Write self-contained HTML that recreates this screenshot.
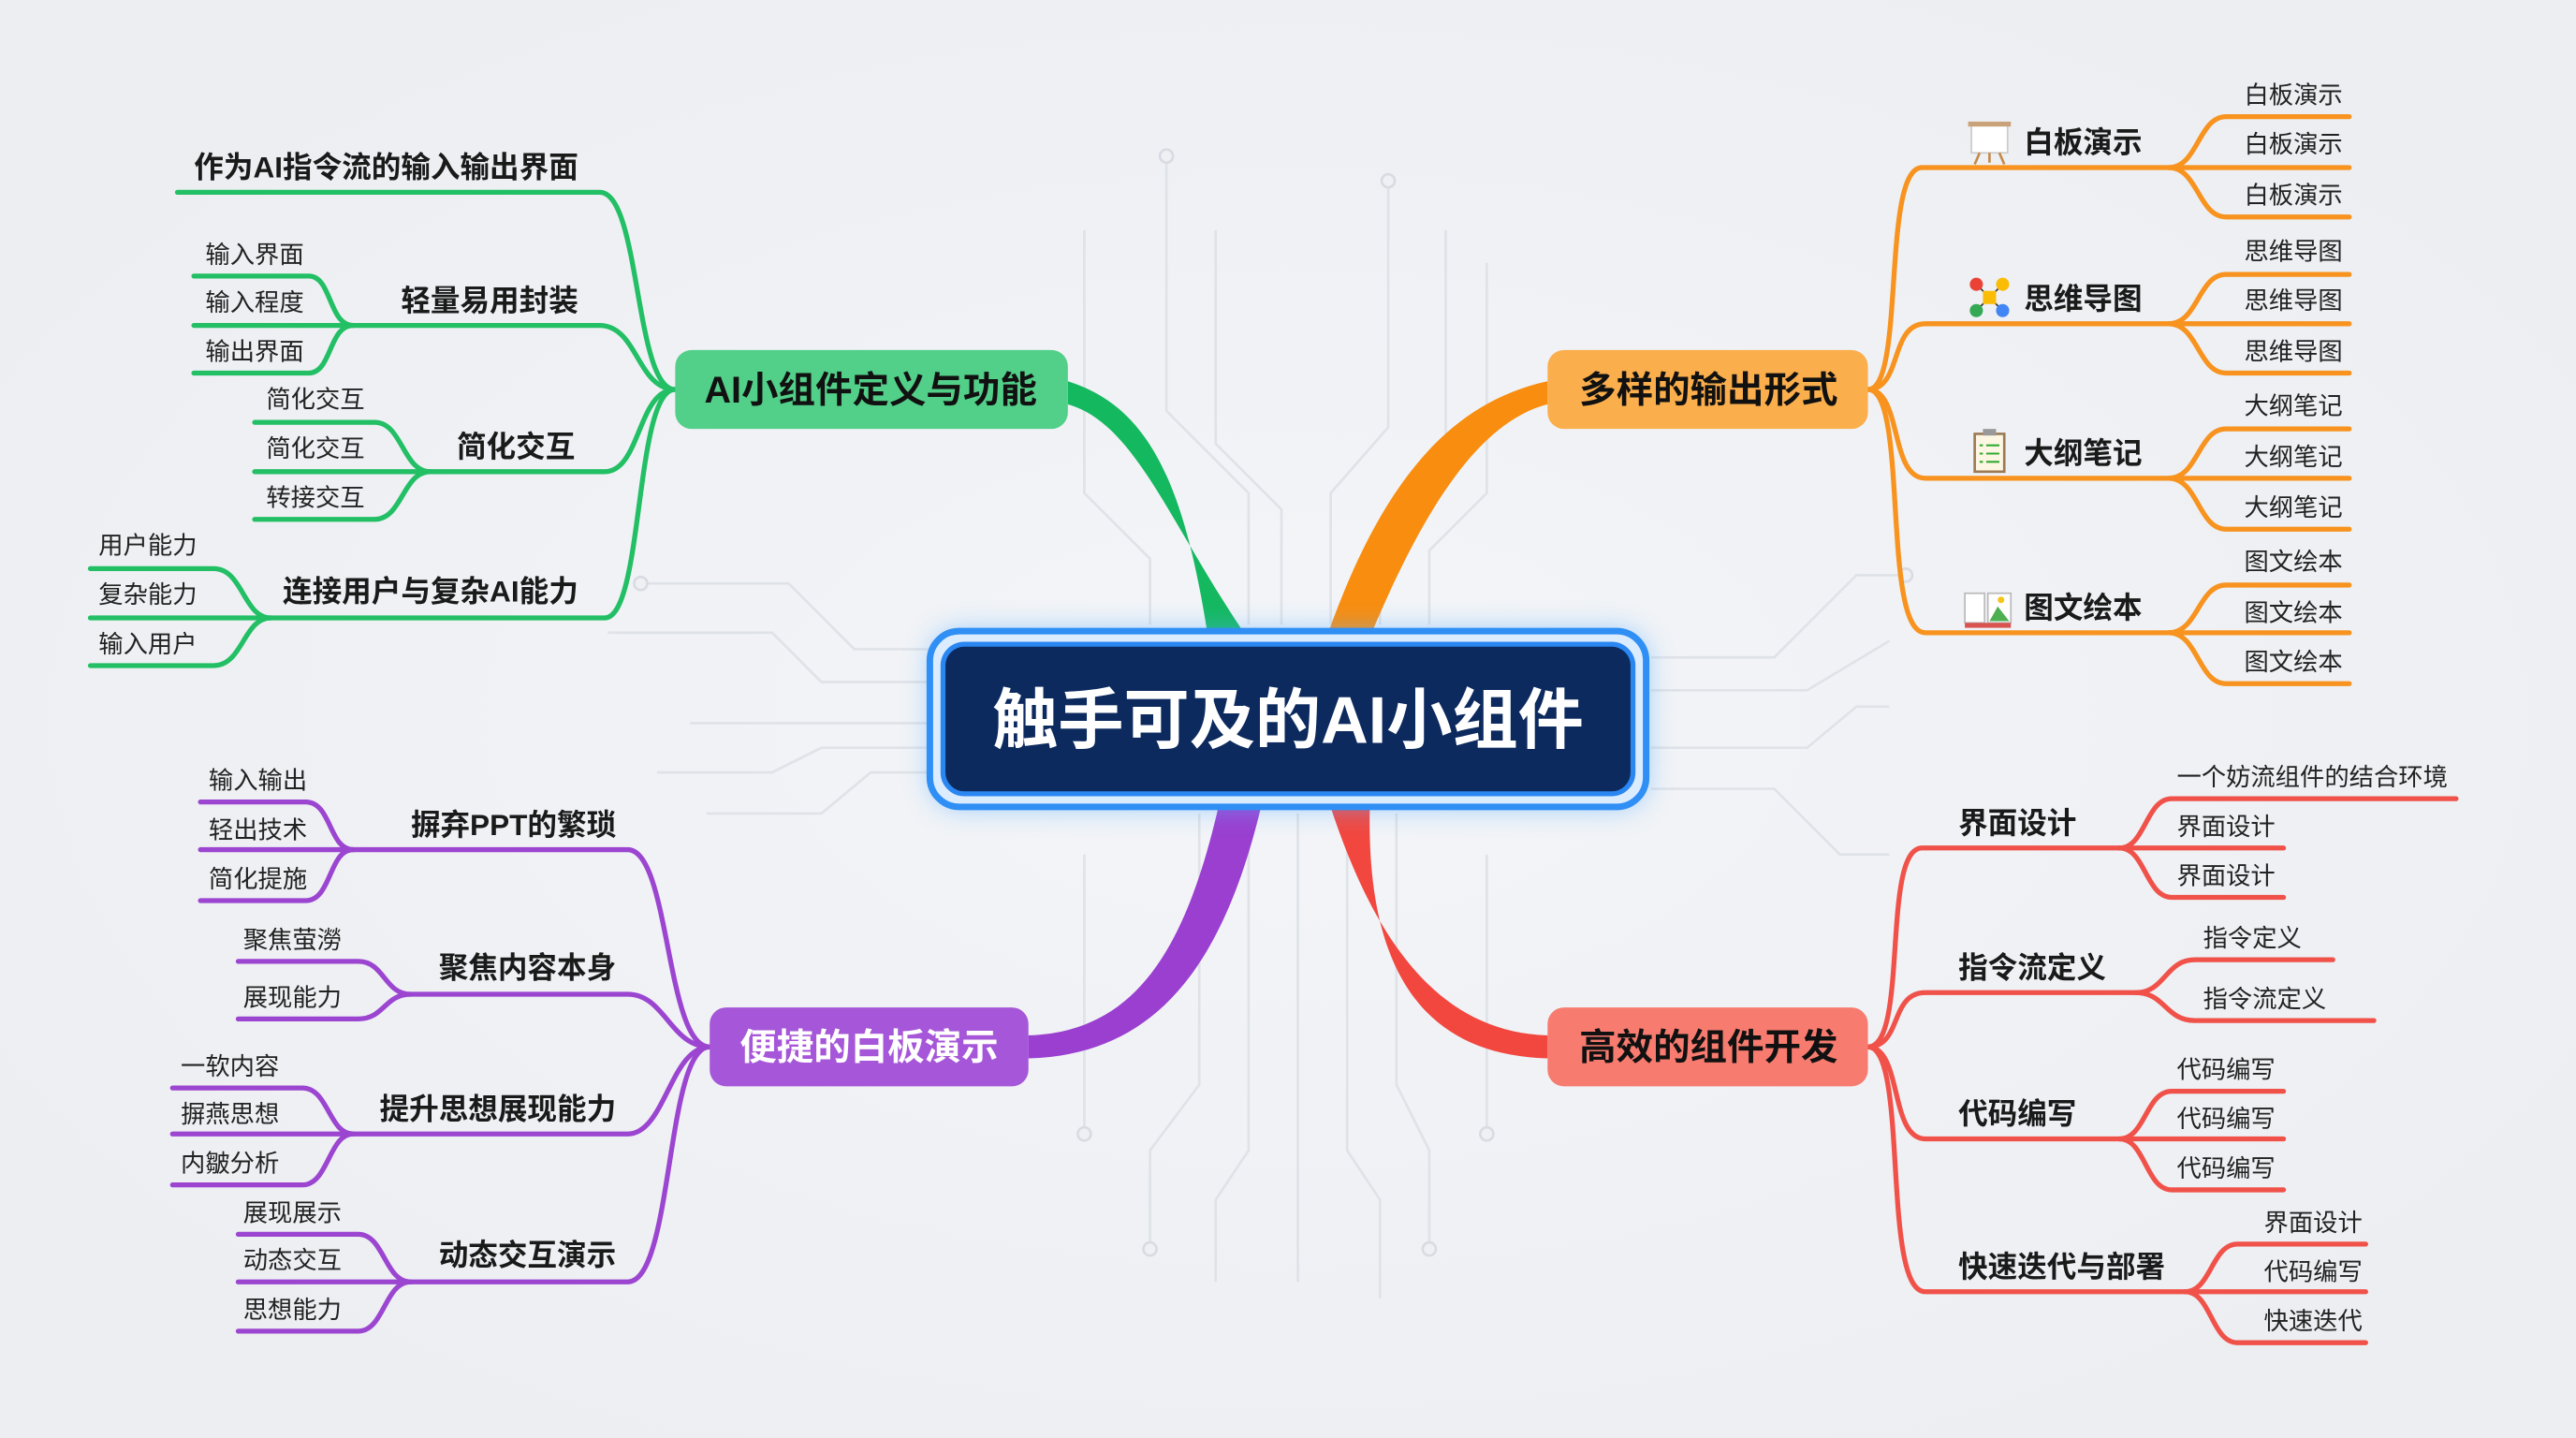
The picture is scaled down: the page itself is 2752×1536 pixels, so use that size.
<!DOCTYPE html>
<html><head><meta charset="utf-8"><style>
html,body{margin:0;padding:0;background:#eef0f4;}
svg{display:block}
text{font-family:"Liberation Sans","Noto Sans CJK SC",sans-serif;}
.c{font-size:18px;font-weight:700;fill:#1a1a1a}
.l{font-size:15px;fill:#222}
.n{font-size:22.5px;font-weight:700}
</style></head><body>
<svg width="2752" height="1536" viewBox="0 0 1568 875" preserveAspectRatio="none" xmlns="http://www.w3.org/2000/svg">
<defs>
<radialGradient id="bg" cx="50%" cy="50%" r="60%"><stop offset="0" stop-color="#f3f5f8"/><stop offset="1" stop-color="#eceef2"/></radialGradient>
<filter id="glow" x="-20%" y="-40%" width="140%" height="180%"><feGaussianBlur stdDeviation="8"/></filter>
</defs>
<rect width="1568" height="875" fill="url(#bg)"/>
<g stroke="#dfe2e7" stroke-width="1.5" fill="none">
<path d="M710,95 V250 L760,300 V380"/><path d="M740,140 V270 L780,310 V380"/><path d="M660,140 V300 L700,340 V380"/>
<path d="M845,110 V260 L810,300 V380"/><path d="M880,140 V280 L840,320 V380"/><path d="M905,160 V300 L870,335 V380"/>
<path d="M390,355 H480 L520,395 H565"/><path d="M370,385 H470 L500,415 H565"/><path d="M420,440 H565"/><path d="M400,470 H470 L500,455 H565"/><path d="M430,495 H500 L530,470 H565"/>
<path d="M1005,400 H1080 L1130,350 H1160"/><path d="M1005,420 H1100 L1150,390"/><path d="M1005,455 H1100 L1130,430 H1150"/><path d="M1005,480 H1080 L1120,520 H1150"/>
<path d="M730,495 V660 L700,700 V760"/><path d="M760,495 V700 L740,730 V780"/><path d="M790,495 V780"/><path d="M820,495 V700 L840,730 V790"/><path d="M850,495 V660 L870,700 V760"/><path d="M660,520 V690"/><path d="M905,520 V690"/>
</g>
<g fill="#eef0f4" stroke="#d8dbe1" stroke-width="1.5"><circle cx="710" cy="95" r="4"/><circle cx="845" cy="110" r="4"/><circle cx="390" cy="355" r="4"/><circle cx="1160" cy="350" r="4"/><circle cx="700" cy="760" r="4"/><circle cx="870" cy="760" r="4"/><circle cx="660" cy="690" r="4"/><circle cx="905" cy="690" r="4"/></g>

<path d="M736,392 C722,300 702,248 650,232 L650,246 C692,258 712,320 762,392 Z" fill="#14b85f"/>
<path d="M806,392 C838,300 878,246 942,232 L942,246 C896,258 862,320 832,392 Z" fill="#f88d0f"/>
<path d="M743,485 C722,580 690,628 626,630 L626,644 C702,642 745,590 769,485 Z" fill="#9a3fd0"/>
<path d="M808,485 C838,580 880,628 942,630 L942,644 C866,642 830,590 834,485 Z" fill="#f2473f"/>

<g stroke="#22bf65" stroke-width="3" fill="none" stroke-linecap="round">
<path d="M411,237 C386,237 390,117 365,117 L108,117"/>
<path d="M411,237 C388,237 388,198 365,198 L215,198"/>
<path d="M215,198 C200,198 202,168 188,168 L118,168"/><path d="M215,198 L118,198"/><path d="M215,198 C200,198 202,227 188,227 L118,227"/>
<path d="M411,237 C388,237 390,287 368,287 L262,287"/>
<path d="M262,287 C245,287 245,257 228,257 L155,257"/><path d="M262,287 L155,287"/><path d="M262,287 C245,287 245,316 228,316 L155,316"/>
<path d="M411,237 C386,237 392,376 368,376 L165,376"/>
<path d="M165,376 C148,376 148,346 130,346 L55,346"/><path d="M165,376 L55,376"/><path d="M165,376 C148,376 148,405 130,405 L55,405"/>
</g>
<rect x="411" y="213" width="239" height="48" rx="10" fill="#52cf88"/>
<text x="530" y="245" text-anchor="middle" class="n" fill="#111">AI小组件定义与功能</text>
<text x="352" y="108" text-anchor="end" class="c">作为AI指令流的输入输出界面</text>
<text x="352" y="189" text-anchor="end" class="c">轻量易用封装</text>
<text x="350" y="278" text-anchor="end" class="c">简化交互</text>
<text x="352" y="366" text-anchor="end" class="c">连接用户与复杂AI能力</text>
<text x="125" y="160" class="l">输入界面</text><text x="125" y="189" class="l">输入程度</text><text x="125" y="219" class="l">输出界面</text>
<text x="162" y="248" class="l">简化交互</text><text x="162" y="278" class="l">简化交互</text><text x="162" y="308" class="l">转接交互</text>
<text x="60" y="337" class="l">用户能力</text><text x="60" y="367" class="l">复杂能力</text><text x="60" y="397" class="l">输入用户</text>

<g stroke="#f7931e" stroke-width="3" fill="none" stroke-linecap="round">
<path d="M1137,237 C1160,237 1145,102 1170,102 L1320,102"/>
<path d="M1320,102 C1338,102 1338,71 1355,71 L1430,71"/><path d="M1320,102 L1430,102"/><path d="M1320,102 C1338,102 1338,132 1355,132 L1430,132"/>
<path d="M1137,237 C1158,237 1150,197 1172,197 L1320,197"/>
<path d="M1320,197 C1338,197 1338,167 1355,167 L1430,167"/><path d="M1320,197 L1430,197"/><path d="M1320,197 C1338,197 1338,227 1355,227 L1430,227"/>
<path d="M1137,237 C1158,237 1150,291 1172,291 L1320,291"/>
<path d="M1320,291 C1338,291 1338,261 1355,261 L1430,261"/><path d="M1320,291 L1430,291"/><path d="M1320,291 C1338,291 1338,322 1355,322 L1430,322"/>
<path d="M1137,237 C1162,237 1145,385 1172,385 L1320,385"/>
<path d="M1320,385 C1338,385 1338,356 1355,356 L1430,356"/><path d="M1320,385 L1430,385"/><path d="M1320,385 C1338,385 1338,416 1355,416 L1430,416"/>
</g>
<rect x="942" y="213" width="195" height="48" rx="10" fill="#fbae4c"/>
<text x="1040" y="245" text-anchor="middle" class="n" fill="#111">多样的输出形式</text>
<g><rect x="1200" y="76" width="22" height="17" fill="#fff" stroke="#ccc"/><rect x="1198" y="74" width="26" height="3" fill="#c9a27a"/><path d="M1205,93 L1202,100 M1217,93 L1220,100 M1211,93 V99" stroke="#c58a4a" stroke-width="1.5"/></g>
<g><line x1="1203" y1="173" x2="1219" y2="189" stroke="#333"/><line x1="1219" y1="173" x2="1203" y2="189" stroke="#333"/><circle cx="1203" cy="173" r="4" fill="#ea4335"/><circle cx="1219" cy="173" r="4" fill="#fbbc05"/><circle cx="1203" cy="189" r="4" fill="#34a853"/><circle cx="1219" cy="189" r="4" fill="#4285f4"/><rect x="1207" y="177" width="8" height="8" fill="#fbbc05"/></g>
<g><rect x="1202" y="264" width="18" height="23" fill="#fdf6e3" stroke="#9c7a55" stroke-width="1.5"/><rect x="1207" y="261" width="8" height="4" fill="#999"/><path d="M1205,271 h2 M1209,271 h8 M1205,276 h2 M1209,276 h8 M1205,281 h2 M1209,281 h8" stroke="#3a3" stroke-width="1.2"/></g>
<g><rect x="1196" y="361" width="12" height="18" fill="#fff" stroke="#bbb"/><rect x="1210" y="361" width="14" height="18" fill="#fff" stroke="#bbb"/><path d="M1211,378 L1216,369 L1223,378 Z" fill="#4caf50"/><circle cx="1218" cy="365" r="2" fill="#f5c518"/><rect x="1196" y="379" width="28" height="3" fill="#d9534f"/></g>
<text x="1232" y="93" class="c">白板演示</text><text x="1232" y="188" class="c">思维导图</text><text x="1232" y="282" class="c">大纲笔记</text><text x="1232" y="376" class="c">图文绘本</text>
<text x="1366" y="63" class="l">白板演示</text><text x="1366" y="93" class="l">白板演示</text><text x="1366" y="124" class="l">白板演示</text>
<text x="1366" y="158" class="l">思维导图</text><text x="1366" y="188" class="l">思维导图</text><text x="1366" y="219" class="l">思维导图</text>
<text x="1366" y="252" class="l">大纲笔记</text><text x="1366" y="283" class="l">大纲笔记</text><text x="1366" y="314" class="l">大纲笔记</text>
<text x="1366" y="347" class="l">图文绘本</text><text x="1366" y="378" class="l">图文绘本</text><text x="1366" y="408" class="l">图文绘本</text>

<g stroke="#9b45d0" stroke-width="3" fill="none" stroke-linecap="round">
<path d="M432,637 C405,637 408,517 382,517 L215,517"/>
<path d="M215,517 C200,517 202,488 186,488 L122,488"/><path d="M215,517 L122,517"/><path d="M215,517 C200,517 202,548 186,548 L122,548"/>
<path d="M432,637 C408,637 405,605 382,605 L250,605"/>
<path d="M250,605 C234,605 234,585 218,585 L145,585"/><path d="M250,605 C234,605 234,620 218,620 L145,620"/>
<path d="M432,637 C408,637 405,690 382,690 L215,690"/>
<path d="M215,690 C200,690 200,662 184,662 L105,662"/><path d="M215,690 L105,690"/><path d="M215,690 C200,690 200,721 184,721 L105,721"/>
<path d="M432,637 C405,637 410,780 382,780 L250,780"/>
<path d="M250,780 C234,780 234,751 218,751 L145,751"/><path d="M250,780 L145,780"/><path d="M250,780 C234,780 234,810 218,810 L145,810"/>
</g>
<rect x="432" y="613" width="194" height="48" rx="10" fill="#a656d8"/>
<text x="529" y="645" text-anchor="middle" class="n" fill="#fff">便捷的白板演示</text>
<text x="375" y="508" text-anchor="end" class="c">摒弃PPT的繁琐</text>
<text x="375" y="595" text-anchor="end" class="c">聚焦内容本身</text>
<text x="375" y="681" text-anchor="end" class="c">提升思想展现能力</text>
<text x="375" y="770" text-anchor="end" class="c">动态交互演示</text>
<text x="127" y="480" class="l">输入输出</text><text x="127" y="510" class="l">轻出技术</text><text x="127" y="540" class="l">简化提施</text>
<text x="148" y="577" class="l">聚焦萤澇</text><text x="148" y="612" class="l">展现能力</text>
<text x="110" y="654" class="l">一软内容</text><text x="110" y="683" class="l">摒燕思想</text><text x="110" y="713" class="l">内皺分析</text>
<text x="148" y="743" class="l">展现展示</text><text x="148" y="772" class="l">动态交互</text><text x="148" y="802" class="l">思想能力</text>

<g stroke="#f0524a" stroke-width="3" fill="none" stroke-linecap="round">
<path d="M1137,637 C1162,637 1145,516 1170,516 L1290,516"/>
<path d="M1290,516 C1306,516 1306,486 1322,486 L1495,486"/><path d="M1290,516 L1390,516"/><path d="M1290,516 C1306,516 1306,546 1322,546 L1390,546"/>
<path d="M1137,637 C1158,637 1150,604 1172,604 L1300,604"/>
<path d="M1300,604 C1318,604 1318,584 1336,584 L1420,584"/><path d="M1300,604 C1318,604 1318,621 1336,621 L1445,621"/>
<path d="M1137,637 C1158,637 1150,693 1172,693 L1290,693"/>
<path d="M1290,693 C1306,693 1306,664 1322,664 L1390,664"/><path d="M1290,693 L1390,693"/><path d="M1290,693 C1306,693 1306,724 1322,724 L1390,724"/>
<path d="M1137,637 C1162,637 1145,786 1172,786 L1330,786"/>
<path d="M1330,786 C1346,786 1346,757 1362,757 L1440,757"/><path d="M1330,786 L1440,786"/><path d="M1330,786 C1346,786 1346,817 1362,817 L1440,817"/>
</g>
<rect x="942" y="613" width="195" height="48" rx="10" fill="#f77b6f"/>
<text x="1040" y="645" text-anchor="middle" class="n" fill="#111">高效的组件开发</text>
<text x="1192" y="507" class="c">界面设计</text><text x="1192" y="595" class="c">指令流定义</text><text x="1192" y="684" class="c">代码编写</text><text x="1192" y="777" class="c">快速迭代与部署</text>
<text x="1325" y="478" class="l">一个妨流组件的结合环境</text><text x="1325" y="508" class="l">界面设计</text><text x="1325" y="538" class="l">界面设计</text>
<text x="1341" y="576" class="l">指令定义</text><text x="1341" y="613" class="l">指令流定义</text>
<text x="1325" y="656" class="l">代码编写</text><text x="1325" y="686" class="l">代码编写</text><text x="1325" y="716" class="l">代码编写</text>
<text x="1378" y="749" class="l">界面设计</text><text x="1378" y="779" class="l">代码编写</text><text x="1378" y="809" class="l">快速迭代</text>

<rect x="566" y="383" width="437" height="109" rx="18" fill="#5aaeff" opacity="0.55" filter="url(#glow)"/>
<rect x="566" y="384" width="436" height="107" rx="18" fill="#dcecff" stroke="#2f8ff5" stroke-width="4"/>
<rect x="574" y="392" width="420" height="91" rx="13" fill="#0c2a5e" stroke="#2a86f0" stroke-width="3"/>
<text x="784" y="452" text-anchor="middle" font-size="40" font-weight="700" fill="#fff">触手可及的AI小组件</text>
</svg>
</body></html>
